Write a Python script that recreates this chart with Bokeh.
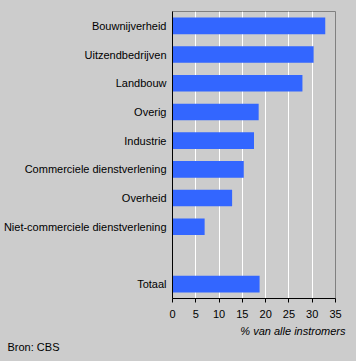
from bokeh.plotting import figure
from bokeh.models import FactorRange, Range1d, FixedTicker, Title, ColumnDataSource
from bokeh.embed import file_html
from bokeh.resources import INLINE

categories = ["Bouwnijverheid", "Uitzendbedrijven", "Landbouw", "Overig", "Industrie",
              "Commerciele dienstverlening", "Overheid", "Niet-commerciele dienstverlening", "Totaal"]
values = [32.8, 30.3, 27.9, 18.5, 17.5, 15.3, 12.8, 6.9, 18.7]
factor_order = ["Totaal", " ", "Niet-commerciele dienstverlening", "Overheid",
                "Commerciele dienstverlening", "Industrie", "Overig", "Landbouw",
                "Uitzendbedrijven", "Bouwnijverheid"]
x_ticks = [0, 5, 10, 15, 20, 25, 30, 35]
x_label = "% van alle instromers"
source_label = "Bron: CBS"

BG = "#cccccc"
FONT = "Liberation Sans"

p = figure(width=348, height=353, output_backend="svg", toolbar_location=None,
           y_range=FactorRange(factors=factor_order), x_range=Range1d(0, 35),
           background_fill_color=BG, border_fill_color=BG,
           min_border_left=163, min_border_right=13, min_border_top=11, min_border_bottom=55)

src = ColumnDataSource(dict(cat=categories, val=values))
p.hbar(y="cat", right="val", left=0, height=0.58, source=src,
       fill_color="#3366ff", line_color=None)

p.outline_line_color = "#808080"
p.ygrid.grid_line_color = None
p.xgrid.grid_line_color = "white"
p.xgrid.grid_line_width = 1
p.xaxis.ticker = FixedTicker(ticks=x_ticks)
p.xaxis.minor_tick_line_color = None
p.xaxis.major_tick_in = 0
p.xaxis.major_tick_out = 4
p.xaxis.major_tick_line_color = "black"
p.xaxis.axis_line_color = "black"
p.xaxis.major_label_text_font = FONT
p.xaxis.major_label_text_font_size = "11px"
p.xaxis.major_label_text_color = "black"
p.xaxis.major_label_standoff = 7

p.yaxis.major_tick_line_color = None
p.yaxis.minor_tick_line_color = None
p.yaxis.major_tick_out = 0
p.yaxis.major_tick_in = 0
p.yaxis.axis_line_color = "black"
p.yaxis.major_label_text_font = FONT
p.yaxis.major_label_text_font_size = "11px"
p.yaxis.major_label_text_color = "black"
p.yaxis.major_label_standoff = 6
p.yaxis.group_text_font_size = "0px"

p.add_layout(Title(text=x_label, align="right", offset=-10, standoff=4,
                   text_font=FONT, text_font_size="11px", text_font_style="italic",
                   text_color="black"), "below")
p.add_layout(Title(text=source_label, align="left", offset=-165, standoff=0,
                   text_font=FONT, text_font_size="11px", text_font_style="normal",
                   text_color="black"), "below")

html = file_html(p, INLINE)
html = html.replace("<head>", "<head><style>body{background:#cccccc;}</style>", 1)
open("out.html", "w").write(html)
